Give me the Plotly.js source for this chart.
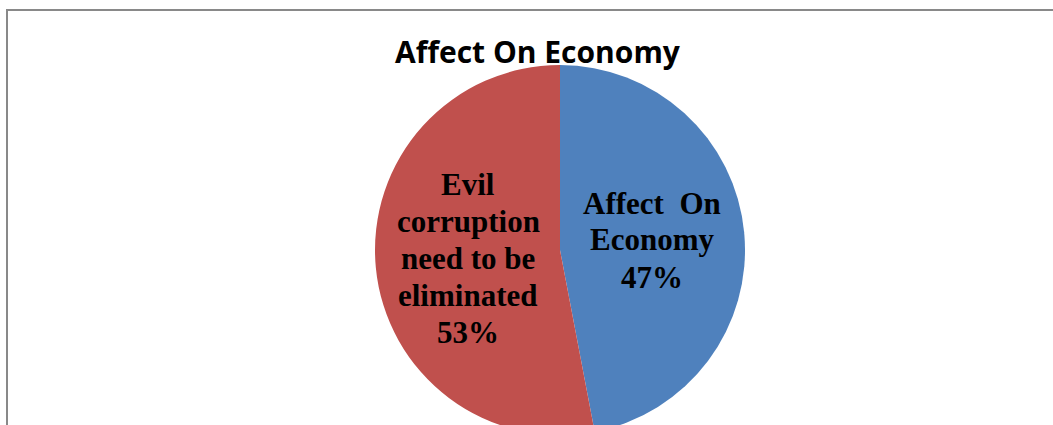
<!DOCTYPE html>
<html>
<head>
<meta charset="utf-8">
<script src="https://cdn.plot.ly/plotly-3.0.1.min.js"></script>
<style>
  html, body { margin: 0; padding: 0; background: #ffffff; overflow: hidden; width: 1053px; height: 425px; }
  #chart { width: 1053px; height: 470px; }
</style>
</head>
<body>
<div id="chart"></div>
<script>
// ---- data ----
const chartTitle = "Affect On Economy";
const categories = ["Affect On Economy", "Evil corruption need to be eliminated"];
const values = [47, 53];
const colors = ["#4F81BD", "#C0504D"];
// line breaks of each in-slice label as drawn in the reference
const labelLines = [
  ["Affect  On", "Economy"],
  ["Evil", "corruption", "need to be", "eliminated"]
];

// ---- layout helpers (pixel geometry of the page) ----
const W = 1053, H = 470;
const px = x => x / W;
const py = y => 1 - y / H;

const total = values.reduce((a, b) => a + b, 0);
const pct = values.map(v => Math.round(v / total * 100) + "%");

// label line centers (pixels)
const labelPos = [
  { x: 652, y0: 203, step: 37 },
  { x: 468, y0: 184.5, step: 37 }
];

const annotations = [];
labelLines.forEach((lines, i) => {
  const all = lines.concat([pct[i]]);
  all.forEach((t, k) => {
    annotations.push({
      text: t,
      xref: "paper", yref: "paper",
      x: px(labelPos[i].x),
      y: py(labelPos[i].y0 + k * labelPos[i].step),
      xanchor: "center", yanchor: "middle",
      showarrow: false,
      font: { family: "Liberation Serif, 'Times New Roman', serif", size: 31, color: "#000000", weight: "bold" }
    });
  });
});

const data = [{
  type: "pie",
  labels: categories,
  values: values,
  marker: { colors: colors, line: { width: 0 } },
  sort: false,
  direction: "clockwise",
  rotation: 0,
  textinfo: "none",
  hoverinfo: "skip",
  domain: { x: [px(375), px(745)], y: [py(435), py(65)] }
}];

const layout = {
  width: W, height: H,
  margin: { l: 0, r: 0, t: 0, b: 0 },
  paper_bgcolor: "#ffffff",
  plot_bgcolor: "#ffffff",
  showlegend: false,
  title: {
    text: "<b>" + chartTitle + "</b>",
    font: { family: "'Open Sans', Lato, sans-serif", size: 30, color: "#000000" },
    x: px(537.5), xanchor: "center", xref: "container",
    y: py(52.5), yanchor: "middle", yref: "container"
  },
  annotations: annotations,
  shapes: [{
    type: "rect", xref: "paper", yref: "paper",
    x0: px(7), x1: 1.02, y0: -0.1, y1: py(10),
    line: { color: "#898989", width: 2 },
    fillcolor: "rgba(0,0,0,0)",
    layer: "below"
  }]
};

Plotly.newPlot("chart", data, layout, { displayModeBar: false, staticPlot: true });
</script>
</body>
</html>
